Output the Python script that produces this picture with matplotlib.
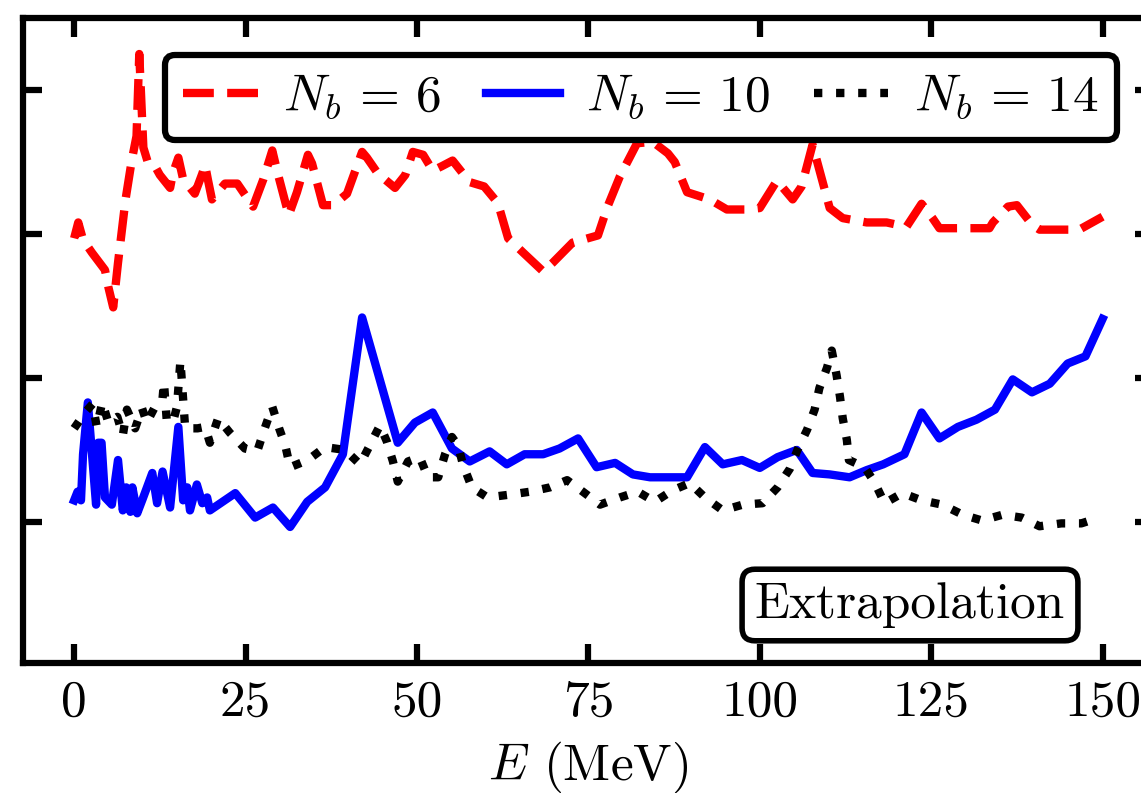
import matplotlib
matplotlib.use("Agg")
import matplotlib.pyplot as plt

plt.rcParams.update({
    'font.family': 'serif',
    'font.serif': ['cmr10'],
    'mathtext.fontset': 'cm',
    'axes.formatter.use_mathtext': True,
    'axes.unicode_minus': False,
})

# N_b = 6 (red dashed)
red_E = [0.0, 0.6, 1.3, 2.6, 4.5, 5.0, 5.7, 6.4, 7.5, 8.4, 9.1, 9.5, 10.1, 10.8, 11.8,
         12.5, 14.0, 14.4, 15.2, 15.9, 17.6, 18.7, 19.1, 19.5, 20.1, 22.0, 23.8, 26.1,
         27.6, 28.9, 29.7, 31.3, 32.5, 34.1, 34.7, 36.3, 37.8, 39.8, 42.0, 42.7, 44.3,
         46.8, 48.3, 49.4, 50.9, 52.3, 53.6, 55.2, 57.7, 59.8, 61.8, 63.3, 65.5, 68.4,
         69.8, 72.7, 76.4, 77.8, 79.6, 82.1, 84.4, 86.6, 87.6, 89.4, 92.7, 95.2, 98.1,
         100.0, 102.5, 104.8, 106.1, 107.7, 110.2, 112.1, 115.6, 118.5, 121.4, 123.6,
         125.2, 126.2, 133.5, 134.0, 136.2, 137.5, 139.8, 140.8, 146.6, 150.0]
red_y = [1.97, 2.08, 1.96, 1.87, 1.75, 1.63, 1.49, 1.80, 2.24, 2.51, 2.68, 3.25, 2.60, 2.49, 2.47,
         2.41, 2.32, 2.42, 2.53, 2.38, 2.28, 2.42, 2.48, 2.38, 2.24, 2.35, 2.35, 2.19,
         2.38, 2.58, 2.42, 2.13, 2.29, 2.55, 2.49, 2.20, 2.20, 2.28, 2.57, 2.53, 2.42,
         2.32, 2.41, 2.57, 2.55, 2.44, 2.47, 2.51, 2.36, 2.33, 2.215, 1.97, 1.87, 1.74,
         1.80, 1.94, 1.99, 2.19, 2.40, 2.63, 2.64, 2.56, 2.50, 2.29, 2.24, 2.17, 2.17,
         2.18, 2.37, 2.24, 2.33, 2.62, 2.18, 2.11, 2.08, 2.08, 2.05, 2.21,
         2.11, 2.04, 2.04, 2.08, 2.19, 2.20, 2.06, 2.03, 2.03, 2.12]

# N_b = 10 (blue solid)
blue_E = [0.0, 0.5, 1.0, 1.3, 2.0, 3.2, 3.5, 4.0, 4.5, 5.5, 6.4, 7.1, 7.6, 8.2, 8.5, 9.2,
          10.0, 11.4, 12.1, 12.9, 14.0, 15.2, 15.9, 16.5, 16.9, 17.9, 18.7, 19.4, 19.8,
          23.5, 26.4, 29.0, 31.5, 34.0, 36.6, 39.2, 42.0, 47.2, 49.7, 52.3, 55.1, 57.7,
          60.6, 63.1, 65.7, 68.4, 70.8, 73.5, 76.2, 78.9, 81.5, 84.0, 89.4, 92.0, 94.6,
          97.4, 100.0, 102.6, 105.4, 107.7, 110.2, 113.1, 115.6, 118.0, 121.1, 123.6,
          126.2, 128.9, 131.6, 134.3, 136.9, 139.7, 142.3, 144.9, 147.5, 150.0]
blue_y = [0.15, 0.21, 0.15, 0.47, 0.83, 0.12, 0.55, 0.55, 0.17, 0.12, 0.43, 0.08, 0.24, 0.07, 0.24, 0.06,
          0.16, 0.34, 0.13, 0.35, 0.10, 0.66, 0.15, 0.24, 0.08, 0.26, 0.13, 0.17, 0.08,
          0.20, 0.03, 0.10, -0.035, 0.14, 0.24, 0.47, 1.42, 0.55, 0.69, 0.76, 0.51, 0.42,
          0.49, 0.40, 0.47, 0.47, 0.51, 0.58, 0.38, 0.41, 0.33, 0.31, 0.31, 0.52, 0.40,
          0.43, 0.375, 0.45, 0.50, 0.34, 0.33, 0.31, 0.36, 0.40, 0.47, 0.76,
          0.58, 0.66, 0.71, 0.78, 0.99, 0.90, 0.96, 1.10, 1.15, 1.41]

# N_b = 14 (black dotted)
black_E = [0.0, 1.6, 2.7, 3.3, 4.1, 5.0, 6.3, 7.1, 7.7, 8.9, 9.9, 10.6, 11.8, 12.9, 13.1,
           13.5, 14.4, 15.0, 15.5, 16.2, 18.0, 19.1, 19.8, 21.0, 22.7, 24.9, 26.7, 27.8,
           28.9, 29.9, 30.8, 31.5, 34.1, 36.6, 39.5, 41.7, 43.1, 44.6, 45.6, 46.5, 47.2,
           48.7, 50.4, 51.6, 53.1, 54.1, 55.1, 56.0, 56.7, 58.0, 60.3, 63.6, 66.5, 69.4,
           71.9, 74.2, 76.7, 79.6, 82.2, 84.7, 87.3, 89.8, 92.0, 94.6, 97.5, 100.4, 102.6,
           104.4, 105.5, 106.9, 108.0, 108.7, 109.8, 110.5, 111.2, 111.7, 112.1, 112.7,
           113.0, 115.3, 116.8, 118.2, 120.8, 123.6, 126.6, 129.6, 132.4, 135.4, 138.2,
           140.8, 144.0, 146.9, 149.5]
black_y = [0.65, 0.76, 0.82, 0.66, 0.83, 0.69, 0.73, 0.60, 0.78, 0.65, 0.79, 0.69, 0.80, 0.86, 0.97,
           0.71, 0.69, 0.80, 1.12, 0.65, 0.65, 0.66, 0.55, 0.72, 0.62, 0.51, 0.49, 0.65,
           0.80, 0.65, 0.53, 0.38, 0.43, 0.52, 0.50, 0.40, 0.53, 0.67, 0.56, 0.42, 0.28,
           0.42, 0.45, 0.31, 0.31, 0.47, 0.59, 0.53, 0.40, 0.24, 0.17, 0.19, 0.21, 0.24,
           0.29, 0.21, 0.12, 0.17, 0.21, 0.14, 0.22, 0.27, 0.17, 0.08, 0.12, 0.13, 0.24,
           0.37, 0.50, 0.64, 0.78, 0.93, 1.07, 1.19, 1.02, 0.87, 0.72, 0.57,
           0.43, 0.38, 0.27, 0.13, 0.20, 0.15, 0.12, 0.05, 0.01, 0.05, 0.03,
           -0.03, -0.01, -0.01, 0.03]

x_ticks = [0, 25, 50, 75, 100, 125, 150]
y_ticks = [0, 1, 2, 3]

fs = 37
lw = 6

fig = plt.figure(figsize=(11.41, 7.93), dpi=100)
ax = fig.add_axes([0.0199, 0.1639, 0.9915, 0.8134])

ax.plot(red_E, red_y, color='#ff0000', ls='--', lw=lw, label=r'$N_b \,=\, 6$')
ax.plot(blue_E, blue_y, color='#0000ff', ls='-', lw=lw, label=r'$N_b \,=\, 10$')
ax.plot(black_E, black_y, color='black', ls=':', lw=lw, label=r'$N_b \,=\, 14$')

ax.set_xlim(-7.5, 157.5)
ax.set_ylim(-0.98, 3.5)
ax.set_xticks(x_ticks)
ax.set_xticklabels([str(t) for t in x_ticks])
ax.set_yticks(y_ticks)
ax.set_yticklabels([])
ax.tick_params(direction='in', length=14, width=4.5, top=True, right=True,
               labelsize=fs, pad=12)
for sp in ax.spines.values():
    sp.set_linewidth(4.5)

ax.set_xlabel(r'$E$ (MeV)', fontsize=fs, labelpad=10)

leg = ax.legend(loc='upper center', bbox_to_anchor=(641 / 1141, 1 - 55 / 793),
                bbox_transform=fig.transFigure, ncol=3, fontsize=fs,
                handlelength=1.45, handletextpad=0.5, columnspacing=0.85,
                borderpad=0.35, borderaxespad=0, fancybox=True, framealpha=1)
leg.get_frame().set_edgecolor('black')
leg.get_frame().set_linewidth(4.5)

ax.text(910 / 1141, 1 - 605 / 793, 'Extrapolation', transform=fig.transFigure,
        fontsize=fs, ha='center', va='center',
        bbox=dict(boxstyle='round,pad=0.25', facecolor='white', edgecolor='black', lw=4))

fig.savefig('out.png', dpi=100)
